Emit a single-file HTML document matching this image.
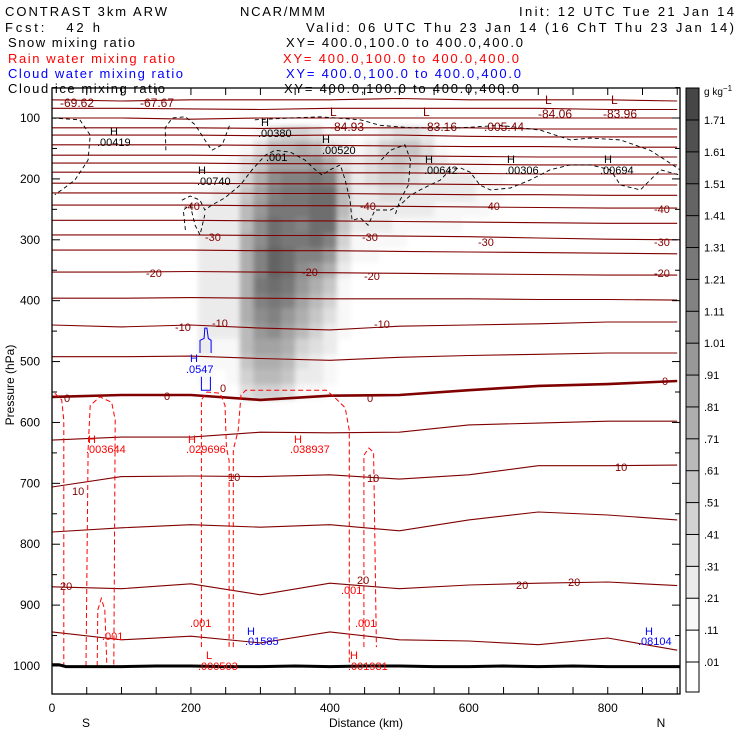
<!DOCTYPE html>
<html><head><meta charset="utf-8"><style>
html,body{margin:0;padding:0;background:#fff}
svg{display:block;font-family:"Liberation Sans",sans-serif}
</style></head><body>
<svg id="chart" width="740" height="740" viewBox="0 0 740 740" xmlns="http://www.w3.org/2000/svg">
<defs>
<clipPath id="plotclip"><rect x="52" y="88" width="628" height="606"/></clipPath>
<filter id="blur" x="-20%" y="-20%" width="140%" height="140%"><feGaussianBlur stdDeviation="2.5"/></filter>
</defs>
<g font-size="13">
<text x="5" y="16" textLength="162">CONTRAST  3km ARW</text>
<text x="240" y="16" textLength="85">NCAR/MMM</text>
<text x="519" y="16" textLength="215">Init: 12 UTC Tue 21 Jan 14</text>
<text x="5" y="32" textLength="95" xml:space="preserve">Fcst:   42 h</text>
<text x="306" y="32" textLength="428">Valid: 06 UTC Thu 23 Jan 14 (16 ChT Thu 23 Jan 14)</text>
<text x="8" y="47" textLength="127">Snow mixing ratio</text>
<text x="286" y="47" textLength="237">XY= 400.0,100.0 to 400.0,400.0</text>
<text x="8" y="63" fill="#ff0000" textLength="167">Rain water mixing ratio</text>
<text x="283" y="63" fill="#ff0000" textLength="236">XY= 400.0,100.0 to 400.0,400.0</text>
<text x="8" y="78" fill="#0000ff" textLength="175">Cloud water mixing ratio</text>
<text x="286" y="78" fill="#0000ff" textLength="235">XY= 400.0,100.0 to 400.0,400.0</text>
<text x="8" y="93" textLength="157">Cloud ice mixing ratio</text>
<text x="284" y="93" textLength="235">XY= 400.0,100.0 to 400.0,400.0</text>
</g>
<g id="plot" clip-path="url(#plotclip)">
<g id="snow" filter="url(#blur)"></g>
<g id="temps"></g>
<g id="ice"></g>
<g id="rain"></g>
<g id="cw"></g>
<g id="sfc"></g>
</g>
<g id="labels" font-size="11">
<g fill="#800000">
<text x="60" y="107" font-size="12">-69.62</text><text x="140" y="107" font-size="12">-67.67</text>
<text x="330" y="116" font-size="12">L</text><text x="330" y="131" font-size="12">-84.93</text>
<text x="423" y="116" font-size="12">L</text><text x="423" y="131" font-size="12">-83.16</text>
<text x="480" y="131" font-size="12">-.005.44</text>
<text x="545" y="104" font-size="12">L</text><text x="538" y="118" font-size="12">-84.06</text>
<text x="611" y="104" font-size="12">L</text><text x="603" y="118" font-size="12">-83.96</text>
<text x="184" y="210">-40</text><text x="360" y="210">-40</text><text x="484" y="210">-40</text><text x="654" y="213">-40</text>
<text x="205" y="241">-30</text><text x="362" y="241">-30</text><text x="478" y="246">-30</text><text x="654" y="246">-30</text>
<text x="146" y="277">-20</text><text x="302" y="276">-20</text><text x="364" y="280">-20</text><text x="654" y="277">-20</text>
<text x="175" y="331">-10</text><text x="212" y="327">-10</text><text x="374" y="328">-10</text>
<text x="64" y="402">0</text><text x="164" y="400">0</text><text x="220" y="392">0</text><text x="367" y="402">0</text><text x="662" y="385">0</text>
<text x="72" y="495">10</text><text x="228" y="481">10</text><text x="367" y="482">10</text><text x="615" y="471">10</text>
<text x="60" y="590">20</text><text x="357" y="584">20</text><text x="516" y="589">20</text><text x="568" y="586">20</text>
</g>
<g fill="#000">
<text x="110" y="135">H</text><text x="97" y="146">.00419</text>
<text x="261" y="126">H</text><text x="258" y="137">.00380</text>
<text x="322" y="143">H</text><text x="322" y="154">.00520</text>
<text x="266" y="161">.001</text>
<text x="198" y="174">H</text><text x="197" y="185">.00740</text>
<text x="425" y="163">H</text><text x="424" y="174">.00642</text>
<text x="507" y="163">H</text><text x="505" y="174">.00306</text>
<text x="604" y="163">H</text><text x="600" y="174">.00694</text>
</g>
<g fill="#ff0000">
<text x="88" y="443">H</text><text x="86" y="453">.003644</text>
<text x="188" y="443">H</text><text x="186" y="453">.029696</text>
<text x="294" y="443">H</text><text x="290" y="453">.038937</text>
<text x="341" y="594">.001</text><text x="190" y="627">.001</text><text x="355" y="627">.001</text><text x="102" y="640">.001</text>
<text x="206" y="659">L</text><text x="198" y="670">.000503</text>
<text x="350" y="659">H</text><text x="348" y="670">.001931</text>
</g>
<g fill="#0000ff">
<text x="190" y="362">H</text><text x="186" y="373">.0547</text>
<text x="247" y="635">H</text><text x="245" y="645">.01585</text>
<text x="645" y="635">H</text><text x="638" y="645">.08104</text>
</g>
</g>
<rect x="52" y="88" width="628" height="606" fill="none" stroke="#000" stroke-width="1.3"/>
<g id="axes" font-size="12"></g>
<text font-size="12" transform="translate(14,385) rotate(-90)" text-anchor="middle">Pressure (hPa)</text>
<text font-size="12" x="366" y="727" text-anchor="middle">Distance (km)</text>
<text font-size="12" x="86" y="727" text-anchor="middle">S</text>
<text font-size="12" x="661" y="727" text-anchor="middle">N</text>
<g id="cbar" font-size="11"></g>
<text font-size="10" x="704" y="95">g kg<tspan dy="-4" font-size="8">−1</tspan></text>
</svg>
<script>
// ---------- data ----------
const snowKm = [180,200,220,240,260,280,300,320,340,360,380,400,420,440,460,480,500,520,540,560,580,600,620,640,660,680,700,720];
const snowP = [125,150,175,200,225,250,275,300,325,350,375,400,425,450,475,500,525,550];
const snowRows = [
"0000012455422123443100000000",
"0000124778743235664211100000",
"0001246999a84345654322211000",
"0012358bccdc6345543333221100",
"0123369cddee7334433333221100",
"013337adddee7333333222211000",
"013337bedcee6333222221110000",
"013338beddec5222211111000000",
"013338cfecca4221110000000000",
"013338cfeba83111100000000000",
"013338deda862110000000000000",
"013338cdc9752100000000000000",
"013338bca8642100000000000000",
"013337ab97532000000000000000",
"0132279985431000000000000000",
"0122268874321000000000000000",
"0121257763321000000000000000",
"0011145542210000000000000000"];
const shadeColors = ["#ffffff","#ffffff","#f8f8f8","#ebebeb","#dfdfdf","#d2d2d2","#c6c6c6","#bababa","#aeaeae","#a3a3a3","#989898","#8d8d8d","#828282","#787878","#6e6e6e","#646464","#5a5a5a","#505050","#464646"];
const cbarLabels = [".01",".11",".21",".31",".41",".51",".61",".71",".81",".91","1.01","1.11","1.21","1.31","1.41","1.51","1.61","1.71"];

const tempKm = [0,100,200,300,400,500,600,700,800,900];
const tempLevels = [-70.5,-75.5,-84,-80,-75,-70,-65,-60,-55,-50,-45,-40,-35,-30,-25,-20,-15,-10,-5,0,5,10,15,20,25];
const tempP = [
[70,72,70,70,70,68,70,70,70,72],
[84,84,85,86,84,84,84,84,86,86],
[100,100,102,100,100,100,100,100,100,100],
[116,116,116,117,116,116,116,118,118,118],
[128,128,128,129,128,128,130,131,131,131],
[144,144,144,145,145,146,147,147,148,148],
[161,161,161,162,162,162,163,164,164,164],
[174,174,174,175,175,175,176,177,177,177],
[189,189,189,190,190,190,191,192,192,192],
[207,207,207,208,208,208,209,210,210,210],
[223,223,223,224,224,225,226,226,227,227],
[243,243,243,244,244,245,246,247,248,248],
[268,268,268,269,269,270,271,272,273,273],
[292,292,292,293,293,294,295,297,299,300],
[317,317,317,318,318,319,320,321,322,323],
[353,353,352,353,354,355,356,357,358,358],
[396,396,395,396,397,397,397,398,398,399],
[440,443,440,445,448,442,440,438,435,435],
[492,492,491,495,498,493,490,488,486,486],
[558,555,555,563,556,555,547,540,537,532],
[629,624,624,616,617,616,604,601,598,598],
[706,689,688,689,686,693,686,671,671,670],
[780,773,768,772,768,778,760,747,752,760],
[870,873,865,883,864,873,867,864,862,868],
[944,957,951,962,944,957,959,965,954,974]];

const iceCentralKm = [187,199,213,220,230,249,271,288,307,321,343,364,379,389,400,415,422,429,432,444,455,465,487,501,516,530,544,559,573,588,602,616,631,660,688,717,746,775,804,818,847,861,876,904];
const iceCentralP  = [235,228,235,251,243,231,210,185,161,153,156,169,185,194,185,177,202,235,268,264,276,251,251,243,227,218,210,202,185,182,189,210,218,215,202,185,177,177,185,210,218,202,185,194];
const iceTopKm = [292,343,386,444,472,516,588,645,703,746,775,818,861,883,904];
const iceTopP  = [103,100,98,103,112,116,116,112,120,136,133,136,153,169,185];
const iceLeftKm = [0,40,55,52,33,14,4];
const iceLeftP  = [100,103,128,169,202,218,226];
const iceSquigKm = [164,163,173,192,206,220,230,245,256];
const iceSquigP  = [153,116,100,98,111,136,153,144,111];
const iceLoopKm = [474,487,508,516,513,501,494];
const iceLoopP  = [169,153,144,169,210,235,259];
const iceLowKm = [192,189,199,206,213,220];
const iceLowP  = [284,251,243,276,292,259];

const rainAKm=[4,14,17,17], rainAP=[552,563,596,1000];
const rainBKm=[49,52,55,69,86,91,89], rainBP=[1000,645,572,558,567,596,1000];
const rainB2Km=[65,66,71,76,79], rainB2P=[1000,908,889,908,1000];
const rainCKm=[215,215,223,242,249,251,255,255], rainCP=[969,563,550,552,572,641,662,969];
const rainDKm=[261,261,268,272,279,395,408,422,428,428], rainDP=[969,645,613,555,547,547,560,576,613,1002];
const rainEKm=[449,449,456,463,467], rainEP=[969,654,642,649,969];

const cwAKm=[213,213,219,220,223,225,229,229], cwAP=[486,465,462,445,445,462,465,486];
const cwBKm=[215,215,228,228], cwBP=[525,547,547,525];

const sfcKm=[0,10,20,50,70,100,150,200,250,300,350,400,450,500,550,600,650,700,750,800,850,904];
const sfcP =[998,998,1001,1001,1001,1001,1000,1000,1001,1001,1000,1001,1000,1000,1001,1001,1000,1001,1000,1001,1001,1001];

const xTicks=[0,50,100,150,200,250,300,350,400,450,500,550,600,650,700,750,800,850,900];
const xTickLabels=["0","200","400","600","800"];
const yTicks=[50,100,150,200,250,300,350,400,450,500,550,600,650,700,750,800,850,900,950,1000];
const yTickLabels=["100","200","300","400","500","600","700","800","900","1000"];

// ---------- scales ----------
const X0=52, X1=680, KMAX=904;
const Y0=88, Y1=694, PTOP=50.7, PBOT=1046;
function xs(km){return X0+(km/KMAX)*(X1-X0);}
function ys(p){return Y0+(p-PTOP)/(PBOT-PTOP)*(Y1-Y0);}
const NS="http://www.w3.org/2000/svg";
function mk(tag,attrs,parent){const e=document.createElementNS(NS,tag);for(const k in attrs)e.setAttribute(k,attrs[k]);parent.appendChild(e);return e;}
function pts(kms,ps){return kms.map((k,i)=>xs(k).toFixed(1)+","+ys(ps[i]).toFixed(1)).join(" ");}

// snow heatmap
const snowG=document.getElementById('snow');
snowRows.forEach((row,ri)=>{
  for(let ci=0;ci<row.length;ci++){
    const v=parseInt(row[ci],16);
    if(v<2) continue;
    const km=snowKm[ci], p=snowP[ri];
    const x=xs(km-10), w=xs(km+10)-x, y=ys(p-12.5), h=ys(p+12.5)-y;
    const r=mk('rect',{x:x.toFixed(1),y:y.toFixed(1),width:(w+0.5).toFixed(1),height:(h+0.5).toFixed(1),fill:shadeColors[Math.min(v,18)]},snowG);
    
    
  }
});

// temperature contours
const tG=document.getElementById('temps');
tempLevels.forEach((lv,i)=>{
  const l=mk('polyline',{points:pts(tempKm,tempP[i]),fill:'none',stroke:'#800000','stroke-width':lv===0?2.6:1.1},tG);
  
  
});

// cloud ice
const iG=document.getElementById('ice');
[[iceCentralKm,iceCentralP],[iceTopKm,iceTopP],[iceLeftKm,iceLeftP],[iceSquigKm,iceSquigP],[iceLoopKm,iceLoopP],[iceLowKm,iceLowP]].forEach(d=>{
  const l=mk('polyline',{points:pts(d[0],d[1]),fill:'none',stroke:'#000','stroke-width':0.9,'stroke-dasharray':'4,3'},iG);
  
  
});

// rain
const rG=document.getElementById('rain');
[[rainAKm,rainAP],[rainBKm,rainBP],[rainB2Km,rainB2P],[rainCKm,rainCP],[rainDKm,rainDP],[rainEKm,rainEP]].forEach(d=>{
  const l=mk('polyline',{points:pts(d[0],d[1]),fill:'none',stroke:'#ff0000','stroke-width':1,'stroke-dasharray':'5,3'},rG);
  
  
});

// cloud water
const cG=document.getElementById('cw');
[[cwAKm,cwAP],[cwBKm,cwBP]].forEach(d=>{
  const l=mk('polyline',{points:pts(d[0],d[1]),fill:'none',stroke:'#0000ff','stroke-width':1},cG);
  
  
});

// surface
const sG=document.getElementById('sfc');
const sl=mk('polyline',{points:pts(sfcKm,sfcP),fill:'none',stroke:'#000','stroke-width':3},sG);



// axes
const aG=document.getElementById('axes');
xTicks.forEach(k=>{
  const x=xs(k);
  const t=mk('line',{x1:x,y1:Y1,x2:x,y2:Y1-7,stroke:'#000','stroke-width':1},aG);
  
  
  const t2=mk('line',{x1:x,y1:Y0,x2:x,y2:Y0+7,stroke:'#000','stroke-width':1},aG);
  
  
});
xTickLabels.forEach((s,i)=>{
  const t=mk('text',{x:xs(i*200),y:712,'text-anchor':'middle'},aG);
  t.textContent=s;
  
  
});
yTicks.forEach(p=>{
  const y=ys(p), len=(p%100===0)?8:5;
  const t=mk('line',{x1:X0,y1:y,x2:X0+len,y2:y,stroke:'#000','stroke-width':1},aG);
  
  
  const t2=mk('line',{x1:X1,y1:y,x2:X1-len,y2:y,stroke:'#000','stroke-width':1},aG);
  
  
});
yTickLabels.forEach((s,i)=>{
  const t=mk('text',{x:40,y:ys((i+1)*100)+4,'text-anchor':'end'},aG);
  t.textContent=s;
  
  
});

// colorbar
const cb=document.getElementById('cbar');
const CBX=686, CBW=13, CBTOP=88, CBBOT=692, B0=662, STEP=(662-120)/17;
for(let i=0;i<19;i++){
  const yb = i===0?CBBOT:B0-(i-1)*STEP;
  const yt = i===18?CBTOP:B0-i*STEP;
  const r=mk('rect',{x:CBX,y:yt,width:CBW,height:yb-yt,fill:shadeColors[i]},cb);
  
  
}
mk('rect',{x:CBX,y:CBTOP,width:CBW,height:CBBOT-CBTOP,fill:'none',stroke:'#000','stroke-width':1},cb);
cbarLabels.forEach((s,i)=>{
  const y=B0-i*STEP;
  mk('line',{x1:CBX,y1:y,x2:CBX+CBW,y2:y,stroke:'#000','stroke-width':1},cb);
  const t=mk('text',{x:704,y:y+4},cb);
  t.textContent=s;
  
  
});
</script>
</body></html>
